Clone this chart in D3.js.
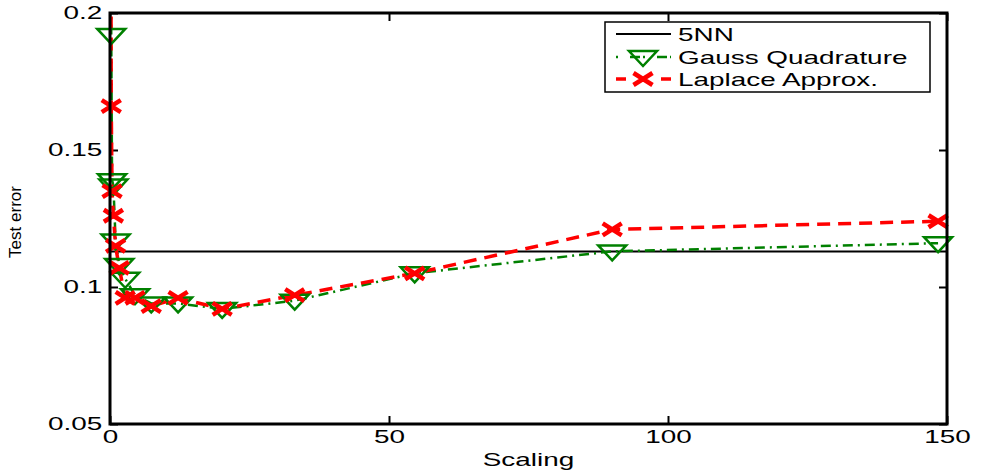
<!DOCTYPE html>
<html>
<head>
<meta charset="utf-8">
<style>
  body { margin: 0; background: #fff; }
  text { font-family: "Liberation Sans", Arial, sans-serif; fill: #000; }
</style>
<title>Test error vs scaling</title>
</head>
<body>
<script src="https://cdn.jsdelivr.net/npm/d3@7"></script>
<script>
// data
var scaling = [0.135, 0.223, 0.368, 0.607, 1.0, 1.65, 2.72, 4.48, 7.39, 12.2, 20.1, 33.1, 54.6, 90.0, 148.4];
var gauss   = [0.26, 0.192, 0.139, 0.137, 0.117, 0.108, 0.103, 0.097, 0.094, 0.094, 0.092, 0.095, 0.105, 0.113, 0.116];
var laplace = [0.26, 0.166, 0.135, 0.126, 0.115, 0.107, 0.096, 0.096, 0.093, 0.096, 0.092, 0.097, 0.105, 0.121, 0.124];
var knn5 = 0.113;
var xTicks = [0, 50, 100, 150];
var yTicks = [0.05, 0.1, 0.15, 0.2];
var yTickLabels = ["0.05", "0.1", "0.15", "0.2"];
var legendNames = ["5NN", "Gauss Quadrature", "Laplace Approx."];

var W = 985, H = 474;
var pLeft = 110, pRight = 947, pTop = 13, pBottom = 424;
var sx = 1.55; // the original figure is stretched horizontally

var x = d3.scaleLinear().domain([0, 150]).range([pLeft, pRight]);
var y = d3.scaleLinear().domain([0.05, 0.2]).range([pBottom, pTop]);

var svg = d3.select("body").append("svg").attr("width", W).attr("height", H);

svg.append("clipPath").attr("id", "plot")
  .append("rect").attr("x", pLeft).attr("y", pTop)
  .attr("width", pRight - pLeft).attr("height", pBottom - pTop);

// axes with inward ticks
function styleAxis(g) {
  g.select(".domain").remove();
  g.selectAll("line").attr("stroke", "#000").attr("stroke-width", 2);
  g.selectAll("text").attr("font-size", 18).attr("fill", "#000")
    .attr("font-family", "Liberation Sans, Arial, sans-serif")
    .attr("transform", "scale(" + sx + ",1)");
}

svg.append("g").attr("transform", "translate(0," + pBottom + ")")
  .call(d3.axisBottom(x).tickValues(xTicks).tickSizeInner(-8).tickSizeOuter(0).tickPadding(6))
  .call(styleAxis);
svg.append("g").attr("transform", "translate(0," + pTop + ")")
  .call(d3.axisTop(x).tickValues(xTicks).tickSizeInner(-8).tickSizeOuter(0).tickFormat(""))
  .call(styleAxis);
svg.append("g").attr("transform", "translate(" + pLeft + ",0)")
  .call(d3.axisLeft(y).tickValues(yTicks).tickSizeInner(-8).tickSizeOuter(0).tickPadding(5)
    .tickFormat(function (d, i) { return yTickLabels[i]; }))
  .call(styleAxis);
svg.append("g").attr("transform", "translate(" + pRight + ",0)")
  .call(d3.axisRight(y).tickValues(yTicks).tickSizeInner(-8).tickSizeOuter(0).tickFormat(""))
  .call(styleAxis);

// axis titles
svg.append("text")
  .attr("transform", "translate(" + ((pLeft + pRight) / 2) + ",466) scale(" + sx + ",1)")
  .attr("text-anchor", "middle").attr("font-size", 18).text("Scaling");
svg.append("text")
  .attr("transform", "translate(21,222) rotate(-90)")
  .attr("text-anchor", "middle")
  .attr("font-family", "Liberation Sans, Arial, sans-serif")
  .attr("font-size", 17).text("Test error");

var plot = svg.append("g").attr("clip-path", "url(#plot)");

// 5NN baseline
plot.append("line")
  .attr("x1", x(0)).attr("x2", x(150))
  .attr("y1", y(knn5)).attr("y2", y(knn5))
  .attr("stroke", "#000").attr("stroke-width", 2);

var line = d3.line().x(function (d) { return x(d[0]); }).y(function (d) { return y(d[1]); });
var gaussPts = scaling.map(function (s, i) { return [s, gauss[i]]; });
var lapPts = scaling.map(function (s, i) { return [s, laplace[i]]; });

plot.append("path").datum(gaussPts).attr("d", line)
  .attr("fill", "none").attr("stroke", "#008000").attr("stroke-width", 2.5)
  .attr("stroke-dasharray", "10,5,2,5");

var tri = "M-14,-6L14,-6L0,9Z";
function triangle(g) {
  g.append("path").attr("d", tri).attr("fill", "none")
    .attr("stroke", "#008000").attr("stroke-width", 2.5);
}
function cross(g) {
  g.append("path").attr("d", "M-9.5,-6L9.5,6M-9.5,6L9.5,-6")
    .attr("stroke", "#ff0000").attr("stroke-width", 4.5).attr("fill", "none");
}

svg.selectAll(".gm").data(gaussPts.filter(function (d) { return d[1] <= 0.2; }))
  .join("g").attr("class", "gm")
  .attr("transform", function (d) { return "translate(" + x(d[0]) + "," + y(d[1]) + ")"; })
  .each(function () { triangle(d3.select(this)); });

plot.append("path").datum(lapPts).attr("d", line)
  .attr("fill", "none").attr("stroke", "#ff0000").attr("stroke-width", 3.5)
  .attr("stroke-dasharray", "13,8");

svg.selectAll(".lm").data(lapPts.filter(function (d) { return d[1] <= 0.2; }))
  .join("g").attr("class", "lm")
  .attr("transform", function (d) { return "translate(" + x(d[0]) + "," + y(d[1]) + ")"; })
  .each(function () { cross(d3.select(this)); });

// box
svg.append("rect").attr("x", pLeft).attr("y", pTop)
  .attr("width", pRight - pLeft).attr("height", pBottom - pTop)
  .attr("fill", "none").attr("stroke", "#000").attr("stroke-width", 3);

// legend
var lg = svg.append("g");
lg.append("rect").attr("x", 605).attr("y", 22).attr("width", 325).attr("height", 70)
  .attr("fill", "#fff").attr("stroke", "#000").attr("stroke-width", 1.5);
var rows = [34, 57, 79];
lg.append("line").attr("x1", 616).attr("x2", 671).attr("y1", rows[0]).attr("y2", rows[0])
  .attr("stroke", "#000").attr("stroke-width", 2);
lg.append("line").attr("x1", 616).attr("x2", 671).attr("y1", rows[1]).attr("y2", rows[1])
  .attr("stroke", "#008000").attr("stroke-width", 2.5).attr("stroke-dasharray", "2,12,10,3");
triangle(lg.append("g").attr("transform", "translate(643," + rows[1] + ")"));
lg.append("line").attr("x1", 616).attr("x2", 671).attr("y1", rows[2]).attr("y2", rows[2])
  .attr("stroke", "#ff0000").attr("stroke-width", 3.5).attr("stroke-dasharray", "10,35,10");
cross(lg.append("g").attr("transform", "translate(643," + rows[2] + ")"));
legendNames.forEach(function (n, i) {
  lg.append("text")
    .attr("transform", "translate(678," + (rows[i] + 6.5) + ") scale(" + sx + ",1)")
    .attr("font-size", 18).text(n);
});
</script>
</body>
</html>
